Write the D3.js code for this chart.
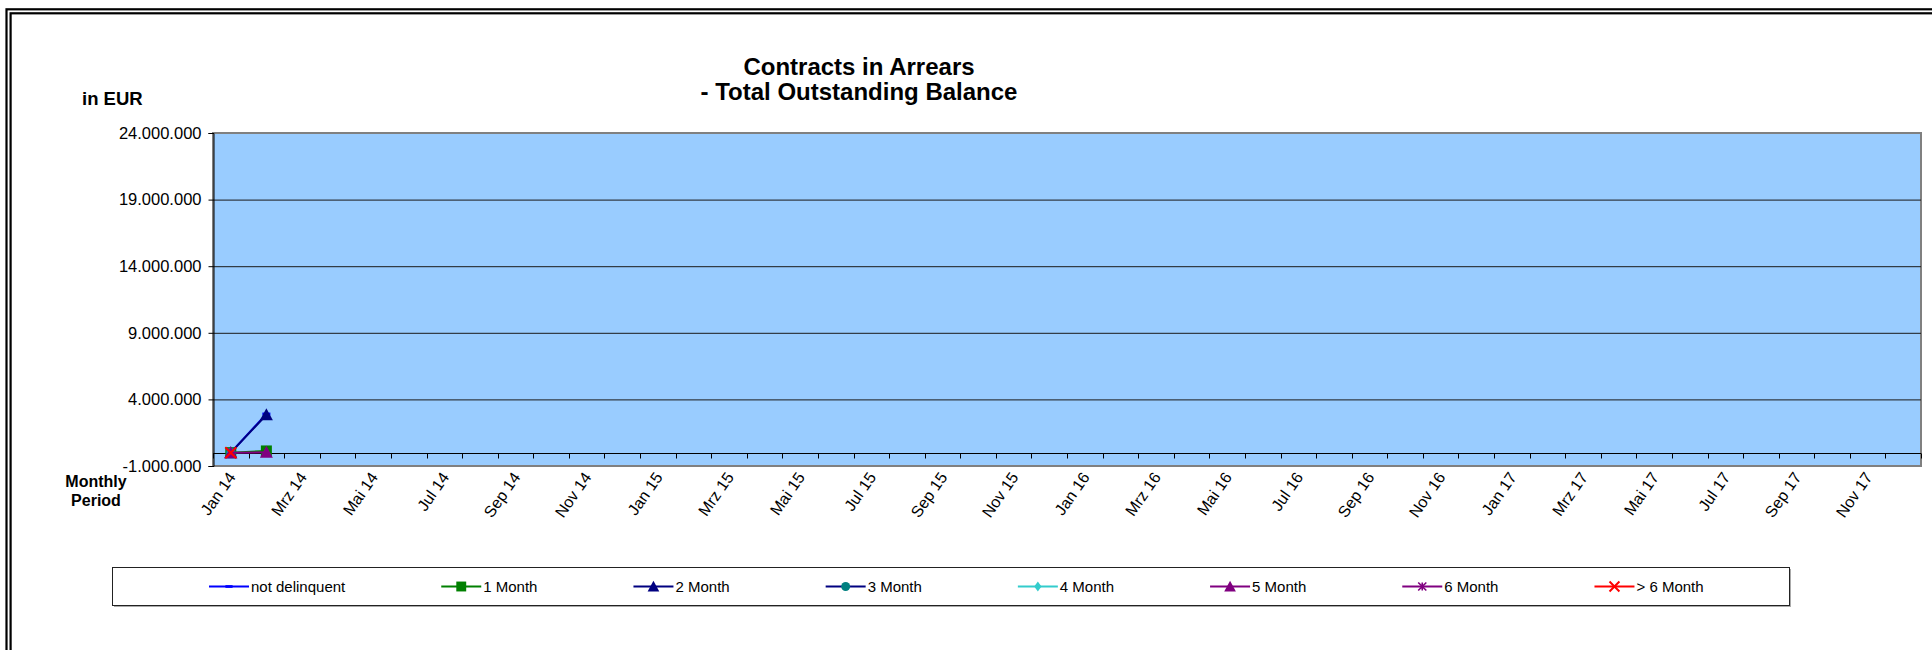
<!DOCTYPE html>
<html><head><meta charset="utf-8">
<script src="https://cdn.jsdelivr.net/npm/d3@7"></script>
<style>
body{margin:0;background:#fff;overflow:hidden;}
svg{display:block;}
text{font-family:"Liberation Sans",Arial,Helvetica,sans-serif;fill:#000;}
</style>
</head><body>
<svg id="chart" width="1932" height="650"></svg>
<script>
// ---------- data ----------
const monthNames = ["Jan","Feb","Mrz","Apr","Mai","Jun","Jul","Aug","Sep","Okt","Nov","Dez"];
const yearLabels = ["14","15","16","17"];
const categories = yearLabels.flatMap(y => monthNames.map(m => m + " " + y));
const seriesNames = ["not delinquent","1 Month","2 Month","3 Month","4 Month","5 Month","6 Month","> 6 Month"];
const notDelinquent = [0, 2900000];
const month1 = [0, 130000];
const month2 = [0, 2850000];
const month3 = [0];
const month4 = [0];
const month5 = [0, 30000];
const month6 = [0];
const monthOver6 = [0];
const yTicks = [-1000000, 4000000, 9000000, 14000000, 19000000, 24000000];
const titleLines = ["Contracts in Arrears", "- Total Outstanding Balance"];

const seriesValues = [notDelinquent, month1, month2, month3, month4, month5, month6, monthOver6];
const seriesStyle = [
  {line:"#0000FF", fill:"#0000FF", marker:"dash"},
  {line:"#008000", fill:"#008000", marker:"square"},
  {line:"#000080", fill:"#000080", marker:"triangle"},
  {line:"#000080", fill:"#008080", marker:"circle"},
  {line:"#33CCCC", fill:"#33CCCC", marker:"diamond"},
  {line:"#800080", fill:"#800080", marker:"triangle"},
  {line:"#800080", fill:"#800080", marker:"star"},
  {line:"#FF0000", fill:"#FF0000", marker:"x"}
];

// ---------- layout ----------
const svg = d3.select("#chart");
const L = 213, R = 1921, T = 133, B = 466;
const x = d3.scaleBand().domain(categories).range([L, R]);
const y = d3.scaleLinear().domain([-1000000, 24000000]).range([B, T]);
const de = d3.formatLocale({decimal:",", thousands:".", grouping:[3], currency:["","€"], minus:"-"});
const fmt = de.format(",d");

// frame (double line)
svg.append("rect").attr("x",6.5).attr("y",9.3).attr("width",2100).attr("height",800)
  .attr("fill","none").attr("stroke","#000").attr("stroke-width",2.2);
svg.append("rect").attr("x",10.6).attr("y",13.3).attr("width",2100).attr("height",800)
  .attr("fill","none").attr("stroke","#000").attr("stroke-width",2.2);

// title
svg.append("text").attr("text-anchor","middle")
  .style("font-weight","bold").style("font-size","24px")
  .selectAll("tspan").data(titleLines).join("tspan")
  .attr("x",859).attr("y",(d,i)=> 75 + i*25).text(d=>d);

svg.append("text").attr("x",82).attr("y",105).style("font-weight","bold").style("font-size","18.5px").text("in EUR");
svg.append("text").attr("text-anchor","middle").style("font-weight","bold").style("font-size","16px")
  .selectAll("tspan").data(["Monthly","Period"]).join("tspan")
  .attr("x",96).attr("y",(d,i)=>487+i*18.5).text(d=>d);

// plot area
svg.append("rect").attr("x",L).attr("y",T).attr("width",R-L).attr("height",B-T)
  .attr("fill","#99CCFF").attr("stroke","#808080").attr("stroke-width",2);

// gridlines
svg.append("g").selectAll("line").data(yTicks.filter(v => v > -1000000 && v < 24000000)).join("line")
  .attr("x1",L).attr("x2",R).attr("y1",d=>y(d)+0.5).attr("y2",d=>y(d)+0.5)
  .attr("stroke","#1a1a1a").attr("stroke-width",1);

// y axis
const yAxis = d3.axisLeft(y).tickValues(yTicks).tickFormat(fmt).tickSize(5).tickPadding(7);
const gy = svg.append("g").attr("transform",`translate(${L+0.5},0)`).call(yAxis);
gy.select(".domain").attr("stroke","#000");
gy.selectAll(".tick line").attr("stroke","#000");
gy.selectAll(".tick text").style("font-size","16.5px").style("font-family","'Liberation Sans',Arial,sans-serif").attr("fill","#000");

// x axis at zero with ticks on band boundaries
const y0 = Math.round(y(0)) + 0.5;
svg.append("line").attr("x1",L).attr("x2",R).attr("y1",y0).attr("y2",y0).attr("stroke","#000").attr("stroke-width",1.2);
const boundaries = categories.map(c => x(c)).concat([R]);
svg.append("g").selectAll("line").data(boundaries).join("line")
  .attr("x1",d=>Math.round(d)+0.5).attr("x2",d=>Math.round(d)+0.5).attr("y1",y0).attr("y2",y0+5)
  .attr("stroke","#000").attr("stroke-width",1);

// x labels (every 2nd category), at plot bottom
svg.append("g").selectAll("g").data(categories.filter((c,i)=> i%2===0)).join("g")
  .attr("transform", d => `translate(${x(d)+x.bandwidth()/2+1},${B+8})`)
  .append("text")
  .attr("text-anchor","end")
  .attr("transform","rotate(-55)")
  .attr("dy","0.35em")
  .style("font-size","16px").text(d=>d);

// markers
function drawMarker(g, type, cx, cy, st, scale) {
  const s = scale || 1;
  if (type === "dash") {
    g.append("rect").attr("x",cx-4*s).attr("y",cy-1.5*s).attr("width",8*s).attr("height",3*s).attr("fill",st.fill);
  } else if (type === "square") {
    g.append("rect").attr("x",cx-5.5*s).attr("y",cy-5.5*s).attr("width",11*s).attr("height",11*s).attr("fill",st.fill);
  } else if (type === "triangle") {
    g.append("path").attr("d",`M${cx},${cy-6.5*s}L${cx+6.5*s},${cy+5.5*s}L${cx-6.5*s},${cy+5.5*s}Z`).attr("fill",st.fill);
  } else if (type === "circle") {
    g.append("circle").attr("cx",cx).attr("cy",cy).attr("r",5*s).attr("fill",st.fill);
  } else if (type === "diamond") {
    g.append("path").attr("d",`M${cx},${cy-5.5*s}L${cx+4*s},${cy}L${cx},${cy+5.5*s}L${cx-4*s},${cy}Z`).attr("fill",st.fill);
  } else if (type === "star") {
    const r = 4.5*s;
    g.append("path").attr("d",`M${cx-r},${cy-r}L${cx+r},${cy+r}M${cx-r},${cy+r}L${cx+r},${cy-r}M${cx},${cy-r}L${cx},${cy+r}`)
      .attr("stroke",st.fill).attr("stroke-width",1.6).attr("fill","none");
  } else if (type === "x") {
    const r = 5.5*s;
    g.append("path").attr("d",`M${cx-r},${cy-r}L${cx+r},${cy+r}M${cx-r},${cy+r}L${cx+r},${cy-r}`)
      .attr("stroke",st.fill).attr("stroke-width",2).attr("fill","none");
  }
}

// series
const lineGen = d3.line().x((d,i)=> x(categories[i]) + x.bandwidth()/2).y(d=>y(d));
const gs = svg.append("g");
seriesValues.forEach((vals, si) => {
  const st = seriesStyle[si];
  const g = gs.append("g");
  if (vals.length > 1) {
    g.append("path").attr("d", lineGen(vals)).attr("fill","none").attr("stroke",st.line).attr("stroke-width",2);
  }
  vals.forEach((v,i) => drawMarker(g, st.marker, x(categories[i]) + x.bandwidth()/2, y(v), st, 1));
});

// legend
const LX = 112, LY = 567, LW = 1677, LH = 38;
svg.append("rect").attr("x",LX+2).attr("y",LY+2).attr("width",LW).attr("height",LH).attr("fill","#aaa");
svg.append("rect").attr("x",LX+0.5).attr("y",LY+0.5).attr("width",LW).attr("height",LH).attr("fill","#fff").attr("stroke","#222").attr("stroke-width",1);
const lg = svg.append("g");
let cur = 209;
const ly = LY + LH/2 + 0.5;
seriesNames.forEach((name, si) => {
  const st = seriesStyle[si];
  const item = lg.append("g");
  item.append("line").attr("x1",cur).attr("x2",cur+40).attr("y1",ly).attr("y2",ly).attr("stroke",st.line).attr("stroke-width",2);
  drawMarker(item, st.marker, cur+20, ly, st, 0.9);
  const t = item.append("text").attr("x",cur+42).attr("y",ly).attr("dy","0.35em").style("font-size","15px").text(name);
  const w = t.node().getComputedTextLength();
  cur = cur + 42 + w + 96;
});
</script>
</body></html>
